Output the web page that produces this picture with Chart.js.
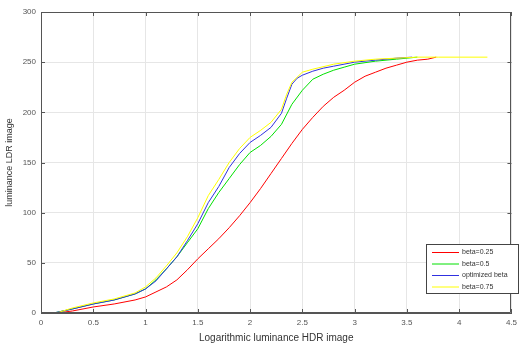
<!DOCTYPE html>
<html>
<head>
<meta charset="utf-8">
<script src="https://cdn.jsdelivr.net/npm/chart.js@4.4.1/dist/chart.umd.min.js"></script>
<style>
html,body{margin:0;padding:0;background:#fff;}
#wrap{width:522px;height:345px;}
</style>
</head>
<body>
<div id="wrap"><canvas id="c" width="522" height="345"></canvas></div>
<script>
// ---- data ----
const seriesLabels = ["beta=0.25", "beta=0.5", "optimized beta", "beta=0.75"];
const seriesColors = ["#ff0000", "#00e000", "#3030e0", "#ffff00"];

const redX = [0.15,0.3,0.5,0.7,0.9,1.0,1.1,1.2,1.3,1.4,1.5,1.6,1.7,1.8,1.9,2.0,2.1,2.2,2.3,2.4,2.5,2.6,2.7,2.8,2.9,3.0,3.1,3.2,3.3,3.4,3.5,3.6,3.7,3.78];
const redY = [0,2,6,9,13,16,21,26,33,43,54,64,74,85,97,110,124,139,154,169,183,195,206,215,222,230,236,240,244,247,250,252,253,255];

const greenX = [0.12,0.3,0.5,0.7,0.9,1.0,1.1,1.2,1.3,1.4,1.5,1.6,1.7,1.8,1.9,2.0,2.1,2.2,2.3,2.4,2.5,2.6,2.7,2.8,2.9,3.0,3.2,3.4,3.6];
const greenY = [0,4,9,13,19,24,33,44,56,70,84,104,120,134,148,160,167,176,188,208,222,233,238,242,245,248,251,253,255];

const blueX = [0.12,0.3,0.5,0.7,0.9,1.0,1.1,1.2,1.3,1.4,1.5,1.6,1.7,1.8,1.9,2.0,2.1,2.2,2.3,2.35,2.4,2.45,2.5,2.6,2.7,2.8,3.0,3.2,3.4,3.55];
const blueY = [0,4,9,13,19,24,32,44,56,72,89,110,126,145,159,170,177,185,199,214,228,234,237,241,244,246,250,252,254,255];

const yellowX = [0,0.15,0.3,0.5,0.7,0.9,1.0,1.1,1.2,1.3,1.4,1.5,1.6,1.7,1.8,1.9,2.0,2.1,2.2,2.3,2.35,2.4,2.5,2.6,2.8,3.0,3.2,3.4,3.6,3.8,4.0,4.27];
const yellowY = [0,0,5,10,14,20,26,35,47,60,76,95,117,133,150,164,175,182,190,203,218,230,240,243,248,251,253,254,255,255,255,255];

const xTicks = [0,0.5,1,1.5,2,2.5,3,3.5,4,4.5];
const yTicks = [0,50,100,150,200,250,300];
const xTitle = "Logarithmic luminance HDR image";
const yTitle = "luminance LDR image";

// ---- build ----
function pts(xs, ys){ return xs.map((x,i)=>({x:x, y:ys[i]})); }
const allX = [redX, greenX, blueX, yellowX];
const allY = [redY, greenY, blueY, yellowY];
const drawOrder = [3,2,1,0];

const datasets = seriesLabels.map((lab,i)=>({
  label: lab,
  data: pts(allX[i], allY[i]),
  borderColor: seriesColors[i],
  backgroundColor: seriesColors[i],
  borderWidth: 1,
  pointRadius: 0,
  tension: 0,
  fill: false,
  order: drawOrder[i]
}));

const FONT = "'Liberation Sans', Arial, sans-serif";
const AXIS = "#555";

const boxPlugin = {
  id: 'boxTicks',
  afterDatasetsDraw(chart){
    const {ctx, chartArea:a, scales:{x, y}} = chart;
    ctx.save();
    ctx.strokeStyle = AXIS;
    ctx.lineWidth = 1;
    ctx.beginPath();
    ctx.rect(Math.round(a.left)+0.5, Math.round(a.top)+0.5, Math.round(a.right-a.left)-1, Math.round(a.bottom-a.top)-1);
    ctx.stroke();
    const L = 4;
    ctx.beginPath();
    xTicks.forEach(v=>{
      const px = Math.round(x.getPixelForValue(v))+0.5;
      ctx.moveTo(px, a.bottom); ctx.lineTo(px, a.bottom-L);
      ctx.moveTo(px, a.top); ctx.lineTo(px, a.top+L);
    });
    yTicks.forEach(v=>{
      const py = Math.round(y.getPixelForValue(v))+0.5;
      ctx.moveTo(a.left, py); ctx.lineTo(a.left+L, py);
      ctx.moveTo(a.right, py); ctx.lineTo(a.right-L, py);
    });
    ctx.stroke();

    // legend box (inside axes, lower right)
    const bx = 426.5, by = 244.5, bw = 92, bh = 49;
    ctx.fillStyle = "#fff";
    ctx.fillRect(bx, by, bw, bh);
    ctx.strokeStyle = "#444";
    ctx.strokeRect(bx, by, bw, bh);
    ctx.font = "7px " + FONT;
    ctx.textBaseline = "middle";
    ctx.textAlign = "left";
    const rows = [252.5, 264, 275.5, 287];
    seriesLabels.forEach((lab,i)=>{
      ctx.strokeStyle = seriesColors[i];
      ctx.beginPath();
      ctx.moveTo(432, rows[i]); ctx.lineTo(459, rows[i]);
      ctx.stroke();
      ctx.fillStyle = "#333";
      ctx.fillText(lab, 462, rows[i]);
    });
    ctx.restore();
  }
};

new Chart(document.getElementById('c'), {
  type: 'line',
  data: { datasets },
  options: {
    responsive: false,
    animation: false,
    layout: { padding: { top: 12, right: 3, left: 0, bottom: 0 } },
    plugins: { legend: { display: false }, tooltip: { enabled: false } },
    scales: {
      x: {
        type: 'linear', min: 0, max: 4.5,
        afterBuildTicks(s){ s.ticks = xTicks.map(v=>({value:v})); },
        afterFit(s){ s.height = 32; },
        grid: { color: "#e6e6e6", drawTicks: false },
        border: { color: AXIS },
        ticks: { padding: 5, color: "#555", font: { family: FONT, size: 8 }, maxRotation: 0,
                 callback: v => String(v) },
        title: { display: true, text: xTitle, color: "#333", font: { family: FONT, size: 10 }, padding: { top: 0, bottom: 1 } }
      },
      y: {
        type: 'linear', min: 0, max: 300,
        afterBuildTicks(s){ s.ticks = yTicks.map(v=>({value:v})); },
        afterFit(s){ s.width = 41; },
        grid: { color: "#e6e6e6", drawTicks: false },
        border: { color: AXIS },
        ticks: { padding: 5, color: "#555", font: { family: FONT, size: 8 },
                 callback: v => String(v) },
        title: { display: true, text: yTitle, color: "#333", font: { family: FONT, size: 9 }, padding: { top: 4.6, bottom: 0 } }
      }
    }
  },
  plugins: [boxPlugin]
});
</script>
</body>
</html>
